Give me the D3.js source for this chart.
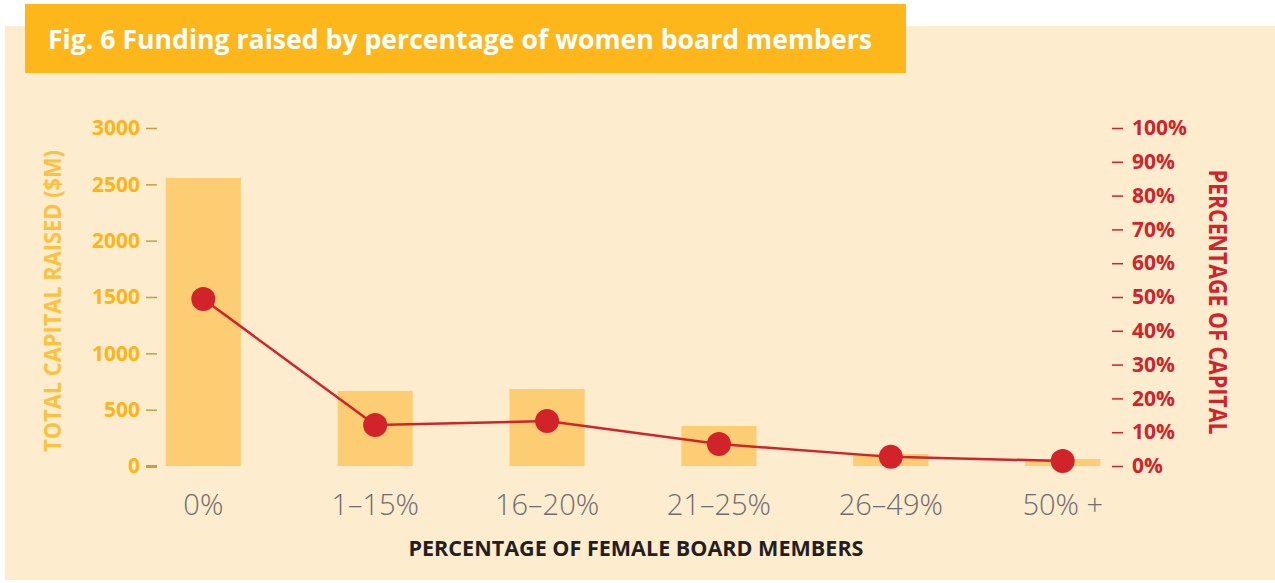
<!DOCTYPE html>
<html lang="en">
<head>
  <meta charset="UTF-8">
  <title>Fig. 6</title>
  <script src="https://cdn.jsdelivr.net/npm/d3@7"></script>
  <style>
    body { margin: 0; background: #fff; }
    svg { display: block; }
  </style>
</head>
<body>
  <div id="grafica"></div>

  <script>
    // data
    categorias = ['0%', '1–15%', '16–20%', '21–25%', '26–49%', '50% +']
    capital = [2556, 666, 683, 355, 106, 62]          // $M
    porcentaje = [49.4, 12.1, 13.3, 6.5, 2.7, 1.5]    // % of capital
    ticksIzq = [0, 500, 1000, 1500, 2000, 2500, 3000]
    ticksDer = [0, 10, 20, 30, 40, 50, 60, 70, 80, 90, 100]

    ancho = 1275
    alto = 583

    svg = d3.select('#grafica')
      .append('svg')
      .attr('width', ancho)
      .attr('height', alto)

    // background panel
    svg.append('rect')
      .attr('x', 5).attr('y', 26)
      .attr('width', ancho - 5).attr('height', alto - 29)
      .attr('fill', '#fdeccd')

    // title box
    svg.append('rect')
      .attr('x', 25).attr('y', 4)
      .attr('width', 881).attr('height', 69)
      .attr('fill', '#fdb71a')
    svg.append('text')
      .attr('x', 48).attr('y', 49)
      .attr('font-family', 'Open Sans')
      .attr('font-weight', 'bold')
      .attr('font-size', 26)
      .attr('fill', '#fff')
      .attr('textLength', 824)
      .attr('lengthAdjust', 'spacingAndGlyphs')
      .text('Fig. 6 Funding raised by percentage of women board members')

    x = d3.scaleBand()
      .domain(categorias)
      .range([69, 1197])
      .paddingInner(0.563)
      .paddingOuter(0.563)

    y = d3.scaleLinear().domain([0, 3000]).range([466, 128])
    y2 = d3.scaleLinear().domain([0, 100]).range([466, 128])

    // bars
    svg.selectAll('rect.barra')
      .data(capital)
      .enter()
      .append('rect')
      .attr('class', 'barra')
      .attr('x', (d, i) => x(categorias[i]))
      .attr('y', d => y(d))
      .attr('width', x.bandwidth())
      .attr('height', d => y(0) - y(d))
      .attr('fill', '#fdcd74')

    // left axis
    ejeIzq = svg.append('g')
      .attr('transform', 'translate(157,0)')
      .call(d3.axisLeft(y).tickValues(ticksIzq).tickSize(11).tickPadding(6).tickFormat(d3.format('d')))
    ejeIzq.select('.domain').remove()
    ejeIzq.selectAll('line').attr('stroke', '#c9a03c').attr('stroke-width', d => d === 0 ? 3 : 1.5)
    ejeIzq.selectAll('text')
      .attr('font-family', 'Open Sans')
      .attr('font-weight', 'bold')
      .attr('font-size', 21)
      .attr('fill', '#fdb515')

    // right axis
    ejeDer = svg.append('g')
      .attr('transform', 'translate(1112,0)')
      .call(d3.axisRight(y2).tickValues(ticksDer).tickSize(11).tickPadding(9).tickFormat(d => d + '%'))
    ejeDer.select('.domain').remove()
    ejeDer.selectAll('line').attr('stroke', '#d2232a').attr('stroke-width', 1.5)
    ejeDer.selectAll('text')
      .attr('font-family', 'Open Sans')
      .attr('font-weight', 'bold')
      .attr('font-size', 21)
      .attr('fill', '#d2232a')

    // x axis labels
    ejeX = svg.append('g')
      .attr('transform', 'translate(0,474)')
      .call(d3.axisBottom(x).tickSize(0).tickPadding(20))
    ejeX.select('.domain').remove()
    ejeX.selectAll('text')
      .attr('font-family', 'Open Sans')
      .attr('font-weight', 300)
      .attr('font-size', 29)
      .attr('fill', '#6d6e71')

    // line + points
    linea = d3.line()
      .x((d, i) => x(categorias[i]) + x.bandwidth() / 2)
      .y(d => y2(d))
    svg.append('path')
      .datum(porcentaje)
      .attr('d', linea)
      .attr('fill', 'none')
      .attr('stroke', '#d2232a')
      .attr('stroke-width', 2.5)
    svg.selectAll('circle')
      .data(porcentaje)
      .enter()
      .append('circle')
      .attr('cx', (d, i) => x(categorias[i]) + x.bandwidth() / 2)
      .attr('cy', d => y2(d))
      .attr('r', 12)
      .attr('fill', '#d2232a')

    // axis titles
    svg.append('text')
      .attr('transform', 'translate(61,301) rotate(-90)')
      .attr('text-anchor', 'middle')
      .attr('font-family', 'Open Sans')
      .attr('font-weight', 'bold')
      .attr('font-size', 24)
      .attr('fill', '#fbc23f')
      .attr('textLength', 302)
      .attr('lengthAdjust', 'spacingAndGlyphs')
      .text('TOTAL CAPITAL RAISED ($M)')

    svg.append('text')
      .attr('transform', 'translate(1209,302) rotate(90)')
      .attr('text-anchor', 'middle')
      .attr('font-family', 'Open Sans')
      .attr('font-weight', 'bold')
      .attr('font-size', 25)
      .attr('fill', '#d2232a')
      .attr('textLength', 265)
      .attr('lengthAdjust', 'spacingAndGlyphs')
      .text('PERCENTAGE OF CAPITAL')

    svg.append('text')
      .attr('x', 636).attr('y', 556)
      .attr('text-anchor', 'middle')
      .attr('font-family', 'Open Sans')
      .attr('font-weight', 'bold')
      .attr('font-size', 21)
      .attr('fill', '#231f20')
      .attr('textLength', 455)
      .attr('lengthAdjust', 'spacingAndGlyphs')
      .text('PERCENTAGE OF FEMALE BOARD MEMBERS')
  </script>
</body>
</html>
